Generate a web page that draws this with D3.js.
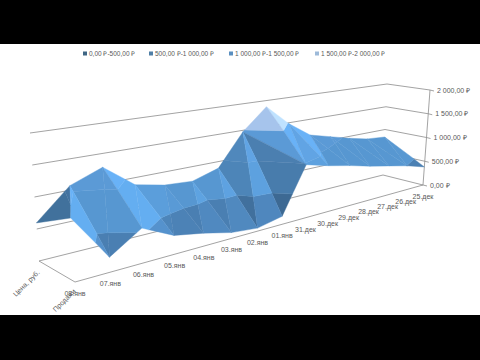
<!DOCTYPE html>
<html>
<head>
<meta charset="utf-8">
<script src="https://cdn.jsdelivr.net/npm/d3@7"></script>
<style>
html, body { margin: 0; padding: 0; background: #000; }
svg { display: block; }
text { font-family: "Liberation Sans", sans-serif; fill: #595959; }
</style>
</head>
<body>
<main></main>
<script>
// Datos
const fechas = ['25.дек', '26.дек', '27.дек', '28.дек', '29.дек', '30.дек', '31.дек', '01.янв', '02.янв', '03.янв', '04.янв', '05.янв', '06.янв', '07.янв', '08.янв'];
const series = ['Продажи', 'Цена, руб.'];
const prodazhi = [380, 495, 585, 673, 777, 868, 981, 144, 53, 100, 216, 306, 551, 230, 955];
const cena = [835, 870, 960, 1070, 1180, 1480, 1880, 1470, 880, 739, 772, 880, 1273, 1072, 594];
const ticksZ = [0, 500, 1000, 1500, 2000];
const etiquetasZ = ['0,00 ₽', '500,00 ₽', '1 000,00 ₽', '1 500,00 ₽', '2 000,00 ₽'];
const bandas = ['0,00 ₽-500,00 ₽', '500,00 ₽-1 000,00 ₽', '1 000,00 ₽-1 500,00 ₽', '1 500,00 ₽-2 000,00 ₽'];
const coloresLeyenda = ['#3f6684', '#4f7fa6', '#5a8fc0', '#9dbad9'];
const coloresBanda = ['#4a7fb2', '#5797d1', '#5b9ad6', '#a6c4ec'];
const diagonalInvertida = ['31.дек'];

const w = 480;
const h = 360;

const svg = d3.select('main')
    .append('svg')
    .attr('width', w)
    .attr('height', h);

svg.append('rect')
    .attr('y', 44)
    .attr('width', w)
    .attr('height', 271)
    .attr('fill', '#fff');

// Escalas: fecha y serie van de 0 a 1, la perspectiva se aplica despues
const escalaFecha = d3.scalePoint().domain(fechas).range([0, 1]);
const escalaSerie = d3.scalePoint().domain(series).range([0, 1]);
const escalaZ = d3.scaleLinear().domain([0, 2000]).range([0, 1]);

const k = 0.68;
const perspectiva = u => k * u / (1 + (k - 1) * u);

// Esquinas de la caja: delante/detras, suelo/techo
const sueloX = [d3.scaleLinear().range([423, 75]), d3.scaleLinear().range([383, 39])];
const sueloY = [d3.scaleLinear().range([185, 282]), d3.scaleLinear().range([175, 261])];
const techoX = [d3.scaleLinear().range([430, 66]), d3.scaleLinear().range([387, 30])];
const techoY = [d3.scaleLinear().range([90, 148]), d3.scaleLinear().range([84, 133])];

function proyecta(u, v, z) {
    const t = perspectiva(u);
    const x0 = sueloX[0](t) + (sueloX[1](t) - sueloX[0](t)) * v;
    const y0 = sueloY[0](t) + (sueloY[1](t) - sueloY[0](t)) * v;
    const x1 = techoX[0](t) + (techoX[1](t) - techoX[0](t)) * v;
    const y1 = techoY[0](t) + (techoY[1](t) - techoY[0](t)) * v;
    const f = escalaZ(z);
    return [x0 + (x1 - x0) * f, y0 + (y1 - y0) * f];
}

const linea = d3.line();
const ejes = svg.append('g')
    .attr('fill', 'none')
    .attr('stroke', '#8c8c8c')
    .attr('stroke-width', 0.8);

// Rejilla de las paredes
ticksZ.forEach(z => {
    ejes.append('path').attr('d', linea([proyecta(1, 1, z), proyecta(0, 1, z), proyecta(0, 0, z)]));
    const p = proyecta(0, 0, z);
    ejes.append('path').attr('d', linea([p, [p[0] + 4, p[1] + 1]]));
});
ejes.append('path').attr('d', linea([proyecta(0, 0, 0), proyecta(0, 0, 2000)]));
ejes.append('path').attr('d', linea([proyecta(1, 1, 0), proyecta(1, 0, 0), proyecta(0, 0, 0)]));

// Corta un poligono por una banda de valores
function recorta(poligono, dentro, corte) {
    const salida = [];
    poligono.forEach((a, i) => {
        const b = poligono[(i + 1) % poligono.length];
        if (dentro(a)) salida.push(a);
        if (dentro(a) !== dentro(b)) {
            const s = (corte - a.z) / (b.z - a.z);
            salida.push({ u: a.u + (b.u - a.u) * s, v: a.v + (b.v - a.v) * s, z: corte });
        }
    });
    return salida;
}

// Luz segun la normal de la cara (u crece hacia la izquierda)
function luz(tri) {
    const [a, b, c] = tri;
    const e1 = [(b.u - a.u) * 14, (b.v - a.v) * 3, (b.z - a.z) / 1000];
    const e2 = [(c.u - a.u) * 14, (c.v - a.v) * 3, (c.z - a.z) / 1000];
    let n = [
        e1[1] * e2[2] - e1[2] * e2[1],
        e1[2] * e2[0] - e1[0] * e2[2],
        e1[0] * e2[1] - e1[1] * e2[0]
    ];
    if (n[2] < 0) n = n.map(d => -d);
    const m = Math.hypot(...n);
    return (-n[0] * 0.5 - n[1] * 0.65 + n[2] * 0.57) / m;
}

const malla = svg.append('g');
const vertice = (i, s) => ({
    u: escalaFecha(fechas[i]),
    v: escalaSerie(series[s]),
    z: s === 0 ? prodazhi[i] : cena[i]
});

function dibujaTriangulo(tri) {
    const brillo = luz(tri);
    bandas.forEach((nombre, b) => {
        const lo = b * 500;
        const hi = lo + 500;
        let p = recorta(tri, d => d.z >= lo, lo);
        if (p.length) p = recorta(p, d => d.z <= hi, hi);
        if (p.length < 3) return;
        const base = d3.rgb(coloresBanda[b]);
        // Zona muerta para que las caras casi planas queden del mismo color
        let color = base;
        if (brillo > 0.71) color = base.brighter(Math.min(0.4, (brillo - 0.71) * 6));
        if (brillo < 0.5) color = base.darker((0.5 - brillo) * 3);
        malla.append('path')
            .attr('d', linea(p.map(d => proyecta(d.u, d.v, d.z))) + 'Z')
            .attr('fill', color)
            .attr('stroke', color)
            .attr('stroke-width', 0.4);
    });
}

// De atras (derecha) hacia delante (izquierda)
d3.range(fechas.length - 1).forEach(i => {
    const fd = vertice(i, 0);
    const fi = vertice(i + 1, 0);
    const bd = vertice(i, 1);
    const bi = vertice(i + 1, 1);
    if (diagonalInvertida.includes(fechas[i])) {
        dibujaTriangulo([bd, bi, fd]);
        dibujaTriangulo([bi, fd, fi]);
    } else {
        dibujaTriangulo([bd, bi, fi]);
        dibujaTriangulo([bd, fd, fi]);
    }
});

// Etiquetas
svg.append('g').selectAll('text')
    .data(ticksZ)
    .join('text')
    .attr('x', d => proyecta(0, 0, d)[0] + 7)
    .attr('y', d => proyecta(0, 0, d)[1] + 2.5)
    .attr('font-size', 7)
    .text((d, i) => etiquetasZ[i]);

svg.append('g').selectAll('text')
    .data(fechas)
    .join('text')
    .attr('x', d => proyecta(escalaFecha(d), 0, 0)[0])
    .attr('y', d => proyecta(escalaFecha(d), 0, 0)[1] + 14)
    .attr('text-anchor', 'middle')
    .attr('font-size', 7)
    .text(d => d);

svg.append('text')
    .attr('transform', 'translate(28,285) rotate(-45)')
    .attr('text-anchor', 'middle')
    .attr('font-size', 7)
    .text(series[1]);

svg.append('text')
    .attr('transform', 'translate(66,302) rotate(-45)')
    .attr('text-anchor', 'middle')
    .attr('font-size', 7)
    .text(series[0]);

// Leyenda
const posLeyenda = d3.scaleOrdinal().domain(bandas).range([83, 149, 229, 315]);
const leyenda = svg.append('g').selectAll('g')
    .data(bandas)
    .join('g')
    .attr('transform', d => `translate(${posLeyenda(d)},51.5)`);
leyenda.append('rect')
    .attr('width', 4)
    .attr('height', 4)
    .attr('fill', (d, i) => coloresLeyenda[i]);
leyenda.append('text')
    .attr('x', 6)
    .attr('y', 4.5)
    .attr('font-size', 6.5)
    .text(d => d);
</script>
</body>
</html>
